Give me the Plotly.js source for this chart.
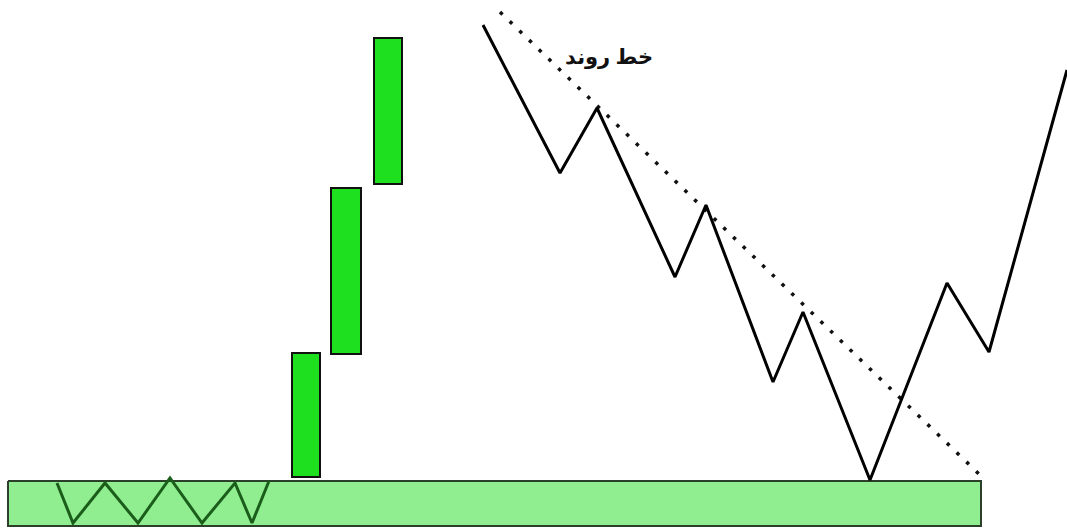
<!DOCTYPE html>
<html>
<head>
<meta charset="utf-8">
<script src="https://cdn.plot.ly/plotly-3.0.1.min.js"></script>
<style>html,body{margin:0;padding:0;background:#fff;}#chart{width:1067px;height:529px;}</style>
</head>
<body>
<div id="chart"></div>
<script>
// Support zone rectangle (corners)
var zoneX = [8, 981, 981, 8, 8];
var zoneY = [481, 481, 526, 526, 481];

// Range zigzag inside the zone
var rangeX = [57, 73, 105, 138, 170, 202, 235, 252, 269];
var rangeY = [483, 523, 483, 523, 478, 523, 483, 523, 481];

// Impulse candles (center, width, top, bottom)
var candleX = [306, 346, 388];
var candleW = [28, 30, 28];
var candleTop = [353, 188, 38];
var candleBottom = [477, 354, 184];

// Price path
var priceX = [483, 560, 597, 675, 706, 773, 803, 870, 947, 989, 1067];
var priceY = [25, 173, 108, 277, 205, 382, 312, 480, 283, 352, 70];

// Trend line
var trendX = [500, 980];
var trendY = [12, 475];
var trendLabel = "خط روند";

var candleH = candleTop.map(function (t, i) { return candleBottom[i] - t; });

var data = [
  {type: 'scatter', mode: 'lines', x: zoneX, y: zoneY, fill: 'toself',
   fillcolor: '#90EE90', line: {color: '#2b3f2b', width: 2}, hoverinfo: 'skip'},
  {type: 'scatter', mode: 'lines', x: rangeX, y: rangeY,
   line: {color: '#1b5e1b', width: 3}, hoverinfo: 'skip'},
  {type: 'bar', x: candleX, width: candleW, base: candleTop, y: candleH,
   marker: {color: '#1ee01e', line: {color: '#111', width: 2}}, hoverinfo: 'skip'},
  {type: 'scatter', mode: 'lines', x: trendX, y: trendY,
   line: {color: '#111', width: 3.5, dash: '3.5px,10px'}, hoverinfo: 'skip'},
  {type: 'scatter', mode: 'lines', x: priceX, y: priceY,
   line: {color: '#000', width: 3}, hoverinfo: 'skip'}
];

var layout = {
  width: 1067, height: 529,
  margin: {l: 0, r: 0, t: 0, b: 0},
  paper_bgcolor: '#fff', plot_bgcolor: '#fff',
  showlegend: false,
  xaxis: {range: [0, 1067], visible: false, fixedrange: true},
  yaxis: {range: [529, 0], visible: false, fixedrange: true},
  annotations: [{
    x: 609, y: 56, xref: 'x', yref: 'y', text: '<b>' + trendLabel + '</b>', showarrow: false,
    font: {family: 'Noto Sans, DejaVu Sans, sans-serif', size: 21, color: '#111'}
  }]
};

Plotly.newPlot('chart', data, layout, {staticPlot: true, displayModeBar: false});
</script>
</body>
</html>
